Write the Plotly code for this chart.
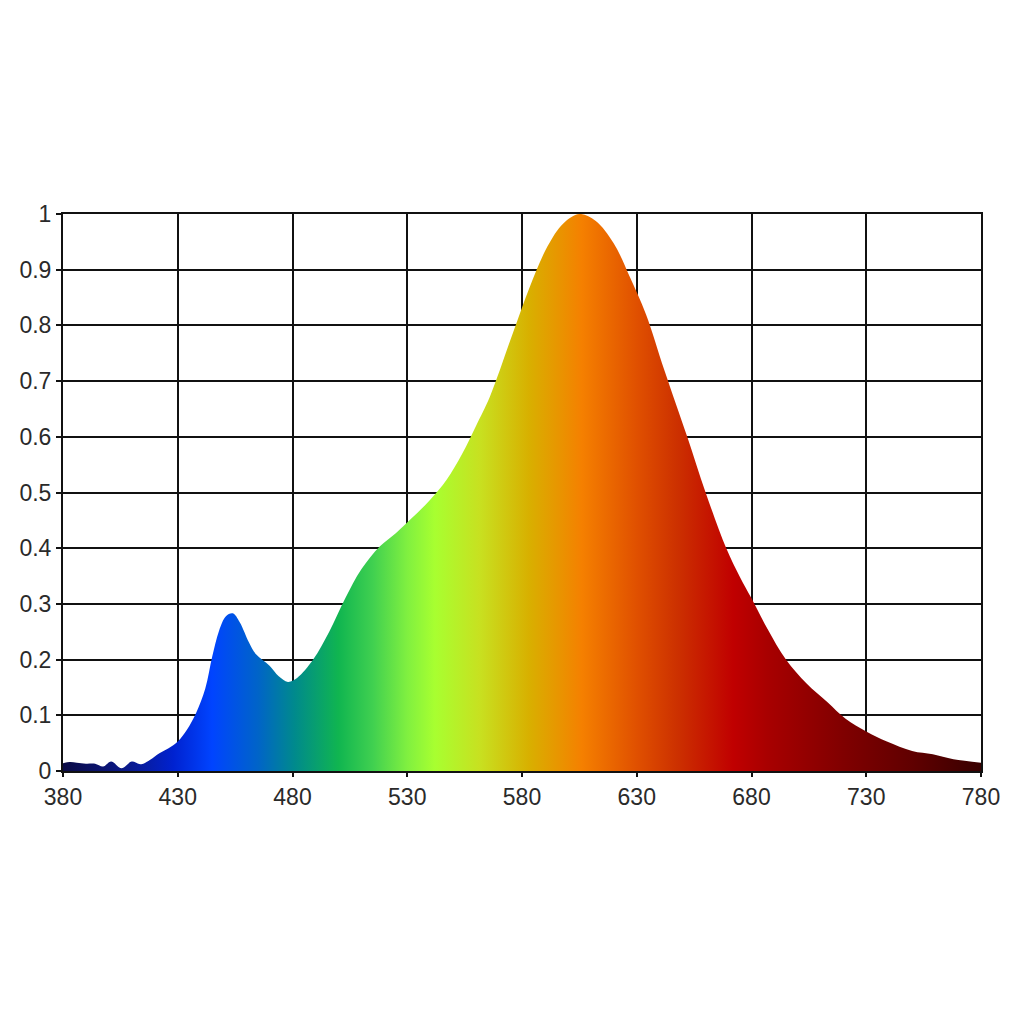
import plotly.graph_objects as go

# Spectrum samples (wavelength nm, relative intensity)
wavelength = [380, 383, 386, 390, 394, 397.5, 401, 405.5, 410, 414, 418, 422, 426, 430,
              434, 438, 442, 445, 448, 451, 454, 457, 461, 464, 470, 474, 478, 482,
              489, 496, 503, 510, 518, 525, 532, 540, 547, 554, 560, 566, 576, 583,
              591, 598, 605, 612, 620, 627, 634, 642, 652, 660, 669, 675, 680,
              687, 695, 704, 713, 721, 730, 739, 750, 759, 768, 780]
intensity = [0.014, 0.016, 0.015, 0.013, 0.013, 0.008, 0.017, 0.005, 0.017, 0.012, 0.02,
             0.032, 0.041, 0.053, 0.074, 0.104, 0.148, 0.205, 0.252, 0.278, 0.283, 0.267,
             0.231, 0.21, 0.189, 0.17, 0.16, 0.167, 0.2, 0.25, 0.31, 0.362, 0.403, 0.427,
             0.454, 0.487, 0.522, 0.57, 0.62, 0.672, 0.786, 0.865, 0.941, 0.983, 1.0,
             0.988, 0.947, 0.887, 0.82, 0.72, 0.6, 0.5, 0.4, 0.348, 0.31, 0.255,
             0.2, 0.157, 0.124, 0.094, 0.071, 0.053, 0.036, 0.03, 0.021, 0.015]

# Spectral colour stops
color_nm = [380, 410, 428, 445, 465, 481, 500, 515, 530, 542, 562, 583, 606, 630, 648,
            672, 687, 720, 750, 780]
color_hex = ["#0b0b45", "#0a1a90", "#0022d0", "#0044ff", "#0064c8", "#008a8c", "#10b550",
             "#40d050", "#80f040", "#a8ff30", "#c8e020", "#d8b000", "#f58000", "#e05000",
             "#cc3000", "#c00000", "#a80000", "#800000", "#600000", "#380000"]

x_ticks = [380, 430, 480, 530, 580, 630, 680, 730, 780]
y_ticks = [0, 0.1, 0.2, 0.3, 0.4, 0.5, 0.6, 0.7, 0.8, 0.9, 1]
y_labels = ["0", "0.1", "0.2", "0.3", "0.4", "0.5", "0.6", "0.7", "0.8", "0.9", "1"]

x0, x1 = x_ticks[0], x_ticks[-1]
colorscale = [[(w - x0) / (x1 - x0), c] for w, c in zip(color_nm, color_hex)]

fig = go.Figure()
fig.add_trace(go.Scatter(
    x=wavelength, y=intensity,
    mode="lines",
    line=dict(width=0, shape="spline", smoothing=1.0, color="rgba(0,0,0,0)"),
    fill="tozeroy",
    fillgradient=dict(type="horizontal", colorscale=colorscale, start=x0, stop=x1),
    hoverinfo="skip",
    showlegend=False,
))

font = dict(family="Liberation Sans, Arial, sans-serif", size=23, color="#2a2a2a")

fig.update_layout(
    width=1024, height=1024,
    margin=dict(l=55, r=51, t=206, b=261),
    paper_bgcolor="white", plot_bgcolor="white",
    font=font,
    showlegend=False,
)
fig.update_xaxes(
    range=[x0, x1], tickvals=x_ticks, ticktext=[str(v) for v in x_ticks],
    showgrid=True, gridcolor="#111111", gridwidth=2,
    showline=True, linecolor="#111111", linewidth=2, mirror=True,
    ticks="outside", ticklen=4, tickcolor="#111111", tickwidth=2,
    zeroline=False, tickfont=font, layer="above traces",
)
fig.update_yaxes(
    range=[0, 1], tickvals=y_ticks, ticktext=y_labels,
    showgrid=True, gridcolor="#111111", gridwidth=2,
    showline=True, linecolor="#111111", linewidth=2, mirror=True,
    ticks="outside", ticklen=5, tickcolor="#111111", tickwidth=2,
    zeroline=False, tickfont=font,
)

fig.write_html("out.html")
